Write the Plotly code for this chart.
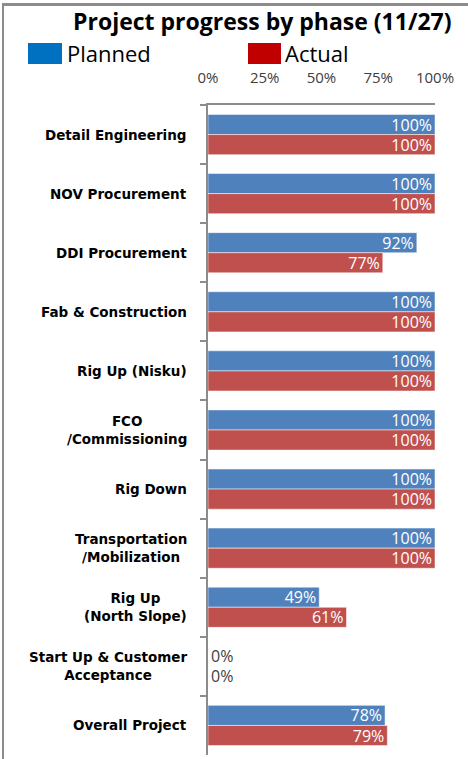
import plotly.graph_objects as go

categories = ["Detail Engineering", "NOV Procurement", "DDI Procurement", "Fab & Construction",
              "Rig Up (Nisku)", "FCO<br>/Commissioning", "Rig Down", "Transportation<br>/Mobilization",
              "Rig Up<br>(North Slope)", "Start Up & Customer<br>Acceptance", "Overall Project"]
planned = [1.00, 1.00, 0.92, 1.00, 1.00, 1.00, 1.00, 1.00, 0.49, 0.00, 0.78]
actual = [1.00, 1.00, 0.77, 1.00, 1.00, 1.00, 1.00, 1.00, 0.61, 0.00, 0.79]
tick_vals = [0, 0.25, 0.5, 0.75, 1.0]
tick_text = ["0%", "25%", "50%", "75%", "100%"]
title_text = "Project progress by phase (11/27)"
series_names = ["Planned", "Actual"]

W, H = 468, 759
L, R, T, B = 208, 33, 105, 4
pw, ph = W - L - R, H - T - B

def px(x):
    return (x - L) / pw

def py(y):
    return (H - B - y) / ph

def pos(v):
    return ["inside" if x > 0 else "outside" for x in v]

fig = go.Figure()
for name, vals, col in [(series_names[0], planned, "#4F81BD"), (series_names[1], actual, "#C0504D")]:
    fig.add_trace(go.Bar(
        y=categories, x=vals, orientation="h", name=name, showlegend=False,
        marker=dict(color=col, line=dict(color="rgba(255,255,255,0.5)", width=1)),
        text=[f"{round(v*100)}%" for v in vals], textposition=pos(vals),
        insidetextanchor="end", constraintext="none", cliponaxis=False,
        insidetextfont=dict(color="white", size=16, family="Open Sans"),
        outsidetextfont=dict(color="#404040", size=16, family="Open Sans"),
        hoverinfo="skip",
    ))

annotations = []
for c in categories:
    annotations.append(dict(x=0, xref="paper", y=c, yref="y", text=c, showarrow=False,
                            xanchor="right", align="center", xshift=-19,
                            font=dict(family="DejaVu Sans", size=13.5, color="black", weight="bold")))
annotations.append(dict(x=px(262), y=py(21), xref="paper", yref="paper", text=title_text,
                        showarrow=False, xanchor="center", yanchor="middle",
                        font=dict(family="Open Sans", size=23, color="black", weight="bold")))
annotations.append(dict(x=px(65), y=py(53), xref="paper", yref="paper", text=series_names[0],
                        showarrow=False, xanchor="left", yanchor="middle",
                        font=dict(family="Open Sans", size=22, color="black")))
annotations.append(dict(x=px(283), y=py(53), xref="paper", yref="paper", text=series_names[1],
                        showarrow=False, xanchor="left", yanchor="middle",
                        font=dict(family="Open Sans", size=22, color="black")))

shapes = [
    dict(type="rect", xref="paper", yref="paper", x0=px(28), x1=px(62), y0=py(64), y1=py(43),
         fillcolor="#0070C0", line=dict(width=0)),
    dict(type="rect", xref="paper", yref="paper", x0=px(248), x1=px(281), y0=py(64), y1=py(43),
         fillcolor="#C00000", line=dict(width=0)),
    dict(type="rect", xref="paper", yref="paper", x0=px(2), x1=px(470), y0=py(6), y1=py(3),
         fillcolor="#8C8C8C", line=dict(width=0)),
    dict(type="rect", xref="paper", yref="paper", x0=px(2), x1=px(4), y0=py(3), y1=py(770),
         fillcolor="#8C8C8C", line=dict(width=0)),
]

fig.update_layout(
    width=W, height=H, margin=dict(l=L, r=R, t=T, b=B),
    paper_bgcolor="white", plot_bgcolor="white",
    barmode="group", bargap=0.32, bargroupgap=0,
    annotations=annotations, shapes=shapes,
    xaxis=dict(side="top", range=[0, 1], tickvals=tick_vals, ticktext=tick_text,
               showgrid=False, zeroline=False, showline=True, linecolor="#8C8C8C", linewidth=2,
               ticks="", ticklabelstandoff=14,
               tickfont=dict(family="Open Sans", size=15, color="#404040")),
    yaxis=dict(type="category", range=[len(categories) - 0.5, -0.5], showticklabels=False,
               showgrid=False, zeroline=False, showline=True, linecolor="#8C8C8C", linewidth=2,
               ticks="outside", tickson="boundaries", ticklen=6, tickcolor="#8C8C8C", tickwidth=1.5),
)

fig.write_html("out.html", config={"displayModeBar": False},
               post_script="document.body.style.margin='0';document.body.style.overflow='hidden';")
